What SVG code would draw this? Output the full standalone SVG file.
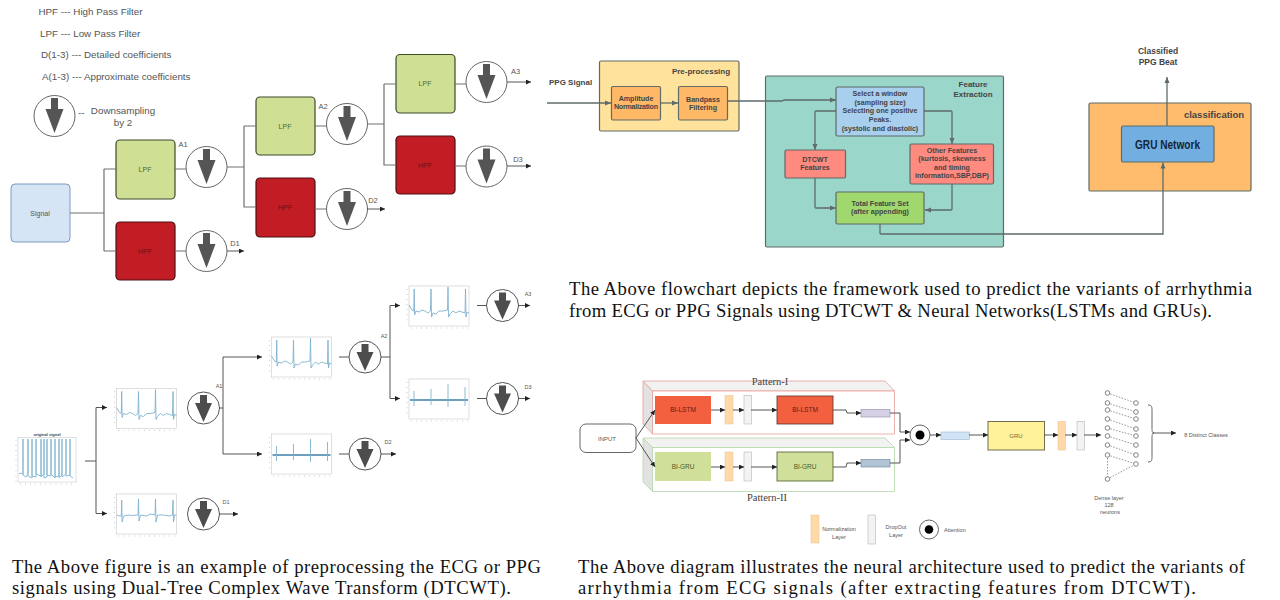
<svg xmlns="http://www.w3.org/2000/svg" width="1280" height="600" viewBox="0 0 1280 600">
<style>
text{font-family:"Liberation Sans",Arial,sans-serif;fill:#555;text-anchor:middle}
.l{text-anchor:start}
.cap{font-family:"Liberation Serif","Times New Roman",serif;font-size:18.67px;fill:#111;text-anchor:start}
.pat{font-family:"Liberation Serif","Times New Roman",serif;font-size:10.5px;fill:#444}
.t10{font-size:9.8px}.t7{font-size:7.5px;fill:#555}.t6{font-size:5.5px;fill:#555}
.b{font-weight:bold;font-size:8px;fill:#444}
.s{font-weight:bold;font-size:7.1px;fill:#444}
.lp{fill:#cfe095;stroke:#3d4a2a;stroke-width:1.2}
.hp{fill:#c21c24;stroke:#4a1015;stroke-width:1.2}
.lpt{font-size:7px;fill:#4d6a2a}.hpt{font-size:7px;fill:#701015}
.w{fill:none;stroke:#707070;stroke-width:1.2}
.w2{fill:none;stroke:#5f6b6a;stroke-width:1.3;marker-end:url(#ag)}
.w3{fill:none;stroke:#444;stroke-width:.9;marker-end:url(#ak)}
.w4{fill:none;stroke:#555;stroke-width:1}
.box{stroke:#5f6b66;stroke-width:1.2}
.frame{fill:#fff;stroke:#c8c8c8;stroke-width:.6}
.tr{fill:none;stroke:#7fb2cf;stroke-width:.9}
.tk{fill:none;stroke:#aaa;stroke-width:1;stroke-dasharray:.6 4.5}
.n{fill:#fff;stroke:#666;stroke-width:.8}
.d{fill:none;stroke:#666;stroke-width:.7;stroke-dasharray:1.5 1.5}
</style>
<defs>
<marker id="ag" markerWidth="7" markerHeight="6" refX="6" refY="3" orient="auto" markerUnits="userSpaceOnUse"><path d="M0 .5L6 3L0 5.500z" fill="#5f6b6a"/></marker>
<marker id="ak" markerWidth="6" markerHeight="5" refX="5" refY="2.500" orient="auto" markerUnits="userSpaceOnUse"><path d="M0 0L5 2.500L0 5z" fill="#222"/></marker>
<g id="ds"><circle r="20.500" fill="#fff" stroke="#666" stroke-width="1"/><path d="M-3.500-18H3.500V-7H9L0 17L-9-7H-3.500z" fill="#555"/></g>
<g id="ds2"><circle r="16" fill="#fff" stroke="#555" stroke-width="1"/><path d="M-3.500-13H3.500V-5H8.500L0 14L-8.500-5H-3.500z" fill="#4d4d4d"/></g>
<g id="chartA"><rect class="frame" width="60" height="40"/><path class="tk" d="M-2 3V38M2 42H60"/><path class="tr" d="M0 19L3 24L4.800 25L5.200 3L5.600 29L7 25L10 26L13 24L16 25L19 27L21.500 25L22 3L22.500 31L24 27L27 28L30 25L34 25L38.500 24L39 1L39.500 31L41 28L44 25L47 27L50 25L53 26L56 27L56.500 3L57 31L58 26L60 27"/></g>
<g id="chartD"><rect class="frame" width="60" height="40"/><path class="tk" d="M-2 3V38M2 42H60"/><path class="tr" d="M0 21L3 22L4.800 22L5.200 6L5.600 28L7 22L12 21L16 21.500L21.500 21L22 5L22.500 27L24 21L30 22L34 20L38.500 21L39 5L39.500 28L41 21L47 21L53 22L56 21L56.500 6L57 28L58 21L60 21"/></g>
<g id="chartS"><rect class="frame" width="60" height="40"/><path class="tk" d="M-2 3V38M2 42H60"/><path d="M1 21H59" fill="none" stroke="#3f7fa8" stroke-width="1.300"/><path class="tr" d="M5 12V27M22 10V26M39 5V28M56 8V27"/></g>
</defs>
<rect width="1280" height="600" fill="#fff"/>

<g id="legend-top">
<text class="l t10" x="38.500" y="15">HPF --- High Pass Filter</text>
<text class="l t10" x="40" y="37">LPF --- Low Pass Filter</text>
<text class="l t10" x="41" y="58">D(1-3) --- Detailed coefficients</text>
<text class="l t10" x="42" y="80">A(1-3) --- Approximate coefficients</text>
<use href="#ds" x="54.500" y="116"/>
<text class="l t10" x="78" y="116">--</text>
<text class="t10" x="123" y="114">Downsampling</text>
<text class="t10" x="123" y="126">by 2</text>
</g>
<g id="signal"><rect x="11" y="184" width="59" height="58" rx="4" fill="#d6e5f6" stroke="#7c9cc0" stroke-width="1"/><text class="t6" style="font-size:7px" x="40" y="216">Signal</text></g>
<g id="lpf1"><rect class="lp" x="116" y="140" width="59" height="59" rx="4"/><text class="lpt" x="145" y="172">LPF</text></g>
<g id="hpf1"><rect class="hp" x="116" y="222" width="59" height="58" rx="4"/><text class="hpt" x="145" y="254">HPF</text></g>
<g id="lpf2"><rect class="lp" x="256" y="97" width="59" height="58" rx="4"/><text class="lpt" x="285" y="129">LPF</text></g>
<g id="hpf2"><rect class="hp" x="256" y="178" width="59" height="59" rx="4"/><text class="hpt" x="285" y="210">HPF</text></g>
<g id="lpf3"><rect class="lp" x="396" y="54.500" width="59" height="58.500" rx="4"/><text class="lpt" x="425" y="86">LPF</text></g>
<g id="hpf3"><rect class="hp" x="396" y="136" width="59" height="58" rx="4"/><text class="hpt" x="425" y="168">HPF</text></g>
<g id="ds-a1"><use href="#ds" x="206.500" y="167"/><text class="t7" x="183" y="147">A1</text></g>
<g id="ds-d1"><use href="#ds" x="206.500" y="251"/><text class="t7" x="235" y="246">D1</text></g>
<g id="ds-a2"><use href="#ds" x="347" y="124"/><text class="t7" x="323" y="109">A2</text></g>
<g id="ds-d2"><use href="#ds" x="347" y="209"/><text class="t7" x="373" y="203">D2</text></g>
<g id="ds-a3"><use href="#ds" x="486.500" y="82"/><text class="t7" x="515.500" y="74">A3</text></g>
<g id="ds-d3"><use href="#ds" x="486.500" y="166.500"/><text class="t7" x="518" y="162">D3</text></g>

<g id="preprocessing"><rect class="box" x="599.500" y="61" width="139.500" height="70" rx="1.500" fill="#ffe29b"/><text class="b" x="701" y="73.500">Pre-processing</text></g>
<g id="ppg-signal"><text class="l b" x="549" y="85">PPG Signal</text></g>
<g id="amp"><rect class="box" x="611.500" y="86.500" width="49" height="33.500" rx="1.500" fill="#ffb866"/><text class="s" x="636" y="101">Amplitude</text><text class="s" textLength="44" x="636" y="109">Normalization</text></g>
<g id="bandpass"><rect class="box" x="678.500" y="86.500" width="49" height="33.500" rx="1.500" fill="#ffb866"/><text class="s" x="703" y="101.500">Bandpass</text><text class="s" x="703" y="109.500">Filtering</text></g>
<g id="feature-extraction"><rect class="box" x="765.500" y="76" width="238" height="171" rx="1.500" fill="#9bd6ca"/><text class="b" x="973" y="87">Feature</text><text class="b" x="973" y="97">Extraction</text></g>
<g id="select"><rect class="box" x="836" y="87" width="88" height="49" rx="1.500" fill="#a9cfee"/><text class="s" x="880" y="95.500">Select a window</text><text class="s" x="880" y="104.500">(sampling size)</text><text class="s" x="880" y="113">Selecting one positive</text><text class="s" x="880" y="121.500">Peaks.</text><text class="s" x="880" y="130.500">(systolic and diastolic)</text></g>
<g id="dtcwt"><rect class="box" x="785" y="150" width="60.500" height="28" rx="1.500" fill="#ff8a80"/><text class="s" x="815" y="161.500">DTCWT</text><text class="s" x="815" y="170">Features</text></g>
<g id="other"><rect class="box" x="910" y="144" width="83.500" height="40" rx="1.500" fill="#ff8a80"/><text class="s" x="952" y="152.500">Other  Features</text><text class="s" x="952" y="161">(kurtosis, skewness</text><text class="s" x="952" y="169.500">and timing</text><text class="s" x="952" y="178">information,SBP,DBP)</text></g>
<g id="total"><rect class="box" x="836" y="192" width="88" height="32" rx="1.500" fill="#a0d86e"/><text class="s" x="880" y="205.500">Total Feature Set</text><text class="s" x="880" y="214">(after appending)</text></g>
<g id="classification"><rect class="box" x="1089" y="103" width="162" height="88" rx="1.500" fill="#ffbc6c"/><text class="b" style="font-size:9.500px" x="1214" y="118">classification</text></g>
<g id="gru-network"><rect class="box" x="1121.500" y="126" width="92.500" height="36" rx="1.500" fill="#72aee0"/><text x="1167.500" y="148.500" textLength="65" lengthAdjust="spacingAndGlyphs" style="font-size:12.500px;font-weight:bold;fill:#13263c">GRU Network</text></g>
<g id="classified"><text class="b" style="font-size:8.500px" x="1158" y="54">Classified</text><text class="b" style="font-size:8.500px" x="1158" y="65">PPG Beat</text></g>

<text class="cap" x="569" y="295" textLength="683">The Above flowchart depicts the framework used to predict the variants of arrhythmia</text>
<text class="cap" x="569" y="317" textLength="643">from ECG or PPG Signals using DTCWT &amp; Neural Networks(LSTMs and GRUs).</text>
<text class="cap" x="12" y="573" textLength="529">The Above figure is an example of preprocessing the ECG or PPG</text>
<text class="cap" x="12" y="594" textLength="499">signals using Dual-Tree Complex Wave Transform (DTCWT).</text>
<text class="cap" x="578" y="573" textLength="667">The Above diagram illustrates the neural architecture used to predict the variants of</text>
<text class="cap" x="578" y="594" textLength="618">arrhythmia from ECG signals (after extracting features from DTCWT).</text>

<g id="original-signal"><rect class="frame" x="18" y="437.500" width="58" height="44.500"/><path class="tk" d="M16 440V482M20 484H76"/><path class="tr" d="M19 474L20 473L23 474V439V475L26 477L28 474V439V476L32 478V439V476L36 477V439V474L41 476V439V477L44 474V439V478L47 477V439V475L51 476V439V474L55 478V439V477L59 476V439V478L62 475V439V477L66 474V439V476L70 475V439V476L73 478"/><text style="font-size:4px;font-weight:bold;fill:#444" x="47" y="436">original signal</text></g>
<g id="chart-a1"><use href="#chartA" x="116.500" y="388.500"/></g>
<g id="chart-d1"><use href="#chartD" x="116.500" y="494"/></g>
<g id="chart-a2"><use href="#chartA" x="271.500" y="337"/></g>
<g id="chart-d2"><use href="#chartS" x="271.500" y="434"/></g>
<g id="chart-a3"><use href="#chartA" x="409" y="286"/></g>
<g id="chart-d3"><use href="#chartS" x="409" y="379"/></g>
<g id="e-a1"><use href="#ds2" x="203.500" y="408"/><text class="t6" x="219" y="388">A1</text></g>
<g id="e-d1"><use href="#ds2" x="203.500" y="514"/><text class="t6" x="226" y="504">D1</text></g>
<g id="e-a2"><use href="#ds2" x="365" y="357"/><text class="t6" x="384" y="338">A2</text></g>
<g id="e-d2"><use href="#ds2" x="365" y="454"/><text class="t6" x="388" y="444">D2</text></g>
<g id="e-a3"><use href="#ds2" x="502.500" y="305.500"/><text class="t6" x="528" y="296">A3</text></g>
<g id="e-d3"><use href="#ds2" x="502.500" y="398.500"/><text class="t6" x="528" y="389">D3</text></g>

<g id="pattern-1"><path d="M643 381L652.500 391V434L643 424z" fill="#e2e2e2" stroke="#e8a09a" stroke-width=".8"/><path d="M643 381H885L894.500 391H652.500z" fill="#f2f2f2" stroke="#e8a09a" stroke-width=".8"/><rect x="652.500" y="391" width="242" height="43" fill="#fff" stroke="#e8a09a" stroke-width=".8"/><text class="pat" x="770" y="385">Pattern-I</text></g>
<g id="pattern-2"><path d="M643 438L652.500 447.500V491.500L643 482z" fill="#e2e2e2" stroke="#b5d8a8" stroke-width=".8"/><path d="M643 438H885L894.500 447.500H652.500z" fill="#f2f2f2" stroke="#b5d8a8" stroke-width=".8"/><rect x="652.500" y="447.500" width="242" height="44" fill="#fff" stroke="#b5d8a8" stroke-width=".8"/><text class="pat" x="767" y="501">Pattern-II</text></g>
<g id="input"><rect x="580" y="424" width="56" height="28.500" rx="6" fill="#fff" stroke="#555" stroke-width=".9"/><text class="t6" style="font-size:6px" x="607" y="440.500">INPUT</text></g>
<g id="bilstm1"><rect x="655" y="396" width="56" height="28" fill="#f2603f"/><text class="t6" x="683" y="412" style="font-size:6.500px;fill:#5a2015">BI-LSTM</text></g>
<g id="bilstm2"><rect x="777" y="396" width="56" height="28" fill="#f2603f" stroke="#5a3028" stroke-width=".8"/><text class="t6" x="805" y="412" style="font-size:6.500px;fill:#5a2015">BI-LSTM</text></g>
<g id="bigru1"><rect x="655" y="452" width="56" height="29" fill="#d0e09a"/><text class="t6" x="683" y="469" style="font-size:6.500px;fill:#4a5a2a">BI-GRU</text></g>
<g id="bigru2"><rect x="777" y="452" width="56" height="29" fill="#d0e09a" stroke="#4a5a2a" stroke-width=".8"/><text class="t6" x="805" y="469" style="font-size:6.500px;fill:#4a5a2a">BI-GRU</text></g>
<g id="layers-p1"><rect x="725" y="395.500" width="8" height="28.500" fill="#ffd9a8" stroke="#e8c090" stroke-width=".5"/><rect x="744" y="395.500" width="7.500" height="28.500" fill="#f3f3f3" stroke="#aaa" stroke-width=".5"/><rect x="861" y="409.500" width="29" height="7.500" fill="#d5d0e5" stroke="#8a8aa5" stroke-width=".6"/></g>
<g id="layers-p2"><rect x="725" y="452" width="8" height="29" fill="#ffd9a8" stroke="#e8c090" stroke-width=".5"/><rect x="744" y="452" width="7.500" height="29" fill="#f3f3f3" stroke="#aaa" stroke-width=".5"/><rect x="861" y="459.500" width="29" height="7.500" fill="#b0c4d6" stroke="#6a8096" stroke-width=".6"/></g>
<g id="attention"><circle cx="920" cy="435" r="10" fill="#fff" stroke="#555" stroke-width=".9"/><circle cx="920" cy="435" r="4.500" fill="#000"/></g>
<g id="blue-layer"><rect x="941" y="432" width="28.500" height="7.500" fill="#d0e4f5" stroke="#9ab5cf" stroke-width=".6"/></g>
<g id="gru"><rect x="988" y="421.500" width="56.500" height="28.500" fill="#fff29a" stroke="#5f5f45" stroke-width=".9"/><text class="t6" x="1016" y="438" style="font-size:6px;fill:#6a6a40">GRU</text></g>
<g id="layers-g"><rect x="1058" y="421.500" width="7.500" height="28.500" fill="#ffd9a8" stroke="#e8c090" stroke-width=".5"/><rect x="1077" y="421.500" width="7.500" height="28.500" fill="#f3f3f3" stroke="#aaa" stroke-width=".5"/></g>
<g id="dense">
<path class="d" d="M1107.500 393L1136 403M1107.500 403L1136 412M1107.500 410L1136 419M1107.500 419L1136 429M1107.500 428L1136 436M1107.500 436L1136 445M1107.500 445L1136 455M1107.500 455L1136 464M1107.500 455V479M1107.500 479L1136 464"/>
<circle class="n" cx="1107.500" cy="393" r="2.300"/><circle class="n" cx="1107.500" cy="403" r="2.300"/><circle class="n" cx="1107.500" cy="410" r="2.300"/><circle class="n" cx="1107.500" cy="419" r="2.300"/><circle class="n" cx="1107.500" cy="428" r="2.300"/><circle class="n" cx="1107.500" cy="436" r="2.300"/><circle class="n" cx="1107.500" cy="445" r="2.300"/><circle class="n" cx="1107.500" cy="455" r="2.300"/><circle class="n" cx="1107.500" cy="479" r="2.300"/>
<circle class="n" cx="1136" cy="403" r="2.300"/><circle class="n" cx="1136" cy="412" r="2.300"/><circle class="n" cx="1136" cy="419" r="2.300"/><circle class="n" cx="1136" cy="429" r="2.300"/><circle class="n" cx="1136" cy="436" r="2.300"/><circle class="n" cx="1136" cy="445" r="2.300"/><circle class="n" cx="1136" cy="455" r="2.300"/><circle class="n" cx="1136" cy="464" r="2.300"/>
<path d="M1148 405C1152 405 1152 407 1152 411V427C1152 431 1152 433 1154 433C1152 433 1152 435 1152 439V456C1152 460 1152 462 1148 462" fill="none" stroke="#555" stroke-width=".9"/>
<text class="t6" x="1109" y="500">Dense layer</text><text class="t6" x="1109" y="507">128</text><text class="t6" x="1110" y="514">neurons</text>
</g>
<g id="classes"><text class="t6" x="1206" y="437">8 Distinct Classes</text></g>
<g id="legend-bottom">
<rect x="811" y="515" width="8" height="28" fill="#ffd9a8" stroke="#e8c090" stroke-width=".5"/><text class="t6" x="839" y="531">Normalization</text><text class="t6" x="839" y="538.500">Layer</text>
<rect x="868" y="515" width="7.500" height="29" fill="#f3f3f3" stroke="#aaa" stroke-width=".5"/><text class="t6" x="896" y="529">DropOut</text><text class="t6" x="896" y="536.500">Layer</text>
<circle cx="929" cy="529.500" r="9.500" fill="#fff" stroke="#555" stroke-width=".9"/><circle cx="929" cy="529.500" r="4.300" fill="#000"/><text class="l t6" x="944" y="532">Attention</text>
</g>

<g id="connectors">
<path class="w" d="M70 213H104M104 169V251M104 169H116M104 251H116M175 169H186M175 251H186M227 167H244M244 126V207H256M244 126H256M315 126H327M315 209H327M367 124H384M384 84V165H396M384 84H396M455 84H466M455 166H466"/>
<path class="w3" d="M227 251H244"/><path class="w3" d="M367 209H385"/><path class="w3" d="M507 82H531"/><path class="w3" d="M507 166H531"/>
<path class="w2" d="M547 103H611"/><path class="w2" d="M660 103H678"/><path class="w2" d="M727 101H782L784 100H836"/><path class="w2" d="M836 111H816Q815 111 815 112V150"/><path class="w2" d="M924 111H951Q952 111 952 112V144"/><path class="w2" d="M815 178V207Q815 208 816 208H836"/><path class="w2" d="M952 184V209Q952 210 951 210H925"/>
<path class="w2" d="M880 224V233Q880 234 881 234H1163V162.500"/><path class="w2" d="M1167 126V77"/>
<path class="w4" d="M85 461H96M96 407.500V513.500M219 408H223M223 357V454M339 357H349M339 454H349M381 357H390M390 305.500V398.500M477 305.500H487M477 398.500H487"/>
<path class="w3" d="M96 407.500H107"/><path class="w3" d="M96 513.500H107"/><path class="w3" d="M223 357H262"/><path class="w3" d="M223 454H262"/><path class="w3" d="M219 514H238"/><path class="w3" d="M390 305.500H400"/><path class="w3" d="M390 398.500H400"/><path class="w3" d="M381 454H396"/><path class="w3" d="M518 305.500H530"/><path class="w3" d="M518 398.500H530"/>
<path class="w3" d="M636 438L655 410"/><path class="w3" d="M636 438L655 467"/><path class="w3" d="M711 410H725"/><path class="w3" d="M733 410H744"/><path class="w3" d="M751 410H777"/><path class="w3" d="M833 410H846L847 413H861"/><path class="w3" d="M890 413H900V432H910"/><path class="w3" d="M711 467H725"/><path class="w3" d="M733 467H744"/><path class="w3" d="M751 467H777"/><path class="w3" d="M833 467H846L847 463H861"/><path class="w3" d="M890 463H900V440H910"/><path class="w3" d="M930 435H941"/><path class="w3" d="M969 435H988"/><path class="w3" d="M1044 435H1058"/><path class="w3" d="M1065 435H1077"/><path class="w3" d="M1084 435H1101"/><path class="w3" d="M1153 433H1176"/>
</g>
</svg>
